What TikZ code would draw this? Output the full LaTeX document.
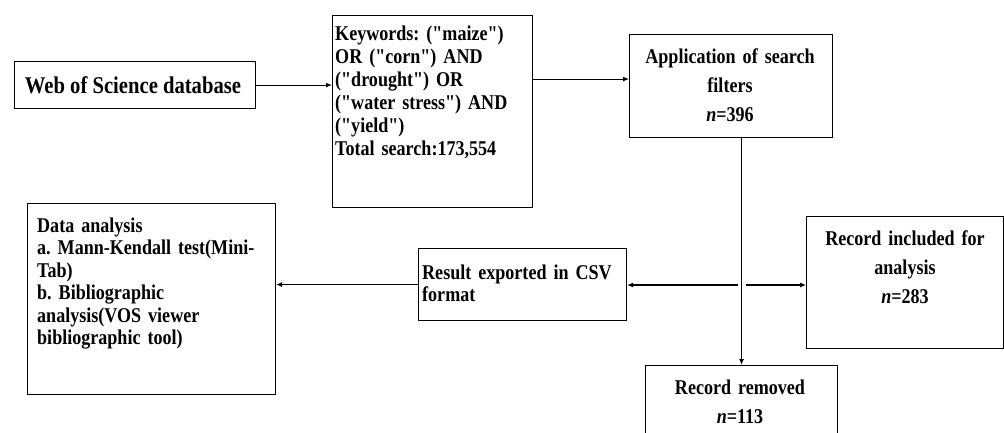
\documentclass[tikz,border=0pt]{standalone}
\usepackage{fontspec}
\setmainfont{Liberation Serif}[Ligatures=TeXOff,FakeStretch=0.86]
\usetikzlibrary{arrows.meta}
\frenchspacing
\begin{document}
\begin{tikzpicture}[x=1pt,y=-1pt,
  frame/.style={draw,line width=1.1pt,anchor=north west,inner sep=0pt},
  txt/.style={font=\bfseries\fontsize{21}{23}\selectfont,inner sep=0pt},
  wide/.style={font=\bfseries\fontsize{21}{29}\selectfont,inner sep=0pt,align=center},
  arr/.style={line width=1.1pt,-{Latex[length=6pt,width=5pt]}}]
\useasboundingbox (0,0) rectangle (1004,432);

\node[frame,minimum width=241pt,minimum height=47pt] (web) at (14,61) {};
\node[frame,minimum width=200pt,minimum height=192pt] (kw) at (332,15) {};
\node[frame,minimum width=203pt,minimum height=103pt] (filt) at (629,34) {};
\node[frame,minimum width=208pt,minimum height=72pt] (res) at (418,248) {};
\node[frame,minimum width=248pt,minimum height=191pt] (anl) at (27,203) {};
\node[frame,minimum width=197pt,minimum height=132pt] (incl) at (806,216) {};
\node[frame,minimum width=192pt,minimum height=90pt] (rem) at (645,365) {};

\node[txt,font=\bfseries\fontsize{24}{26}\selectfont,anchor=base] (webtxt) at (133,93) {Web of Science database};
\node[txt,anchor=base west,text width=200pt,align=left] (kwtxt) at (335,40)
  {Keywords: ("maize")\\ OR ("corn") AND\\ ("drought") OR\\ ("water stress") AND\\ ("yield")\\ Total search:173,554};
\node[wide,anchor=base,text width=200pt] (filttxt) at (730,63)
  {Application of search\\ filters\\ \textit{n}=396};
\node[txt,anchor=base west,text width=205pt,align=left,font=\bfseries\fontsize{21}{22}\selectfont] (restxt) at (422,279)
  {Result exported in CSV\\ format};
\node[txt,anchor=base west,text width=240pt,align=left,font=\bfseries\fontsize{21}{22.5}\selectfont] (anltxt) at (37,232)
  {Data analysis\\ a. Mann-Kendall test(Mini-\\ Tab)\\ b. Bibliographic\\ analysis(VOS viewer\\ bibliographic tool)};
\node[wide,anchor=base,text width=190pt] (incltxt) at (905,245)
  {Record included for\\ analysis\\ \textit{n}=283};
\node[wide,anchor=base,text width=190pt] (remtxt) at (740,394)
  {Record removed\\ \textit{n}=113};

\coordinate (jn) at (741,285);

\draw[arr] (web.east) -- (web.east -| kw.west);
\draw[arr] ([yshift=7pt]filt.west -| kw.east) -- ([yshift=7pt]filt.west);
\draw[arr] (rem.north |- filt.south) -- (rem.north);
\draw[arr] ([xshift=-3pt]jn) -- (jn -| res.east);
\draw[arr] ([xshift=5pt]jn) -- (jn -| incl.west);
\draw[arr] (res.west) -- (res.west -| anl.east);

\end{tikzpicture}
\end{document}
